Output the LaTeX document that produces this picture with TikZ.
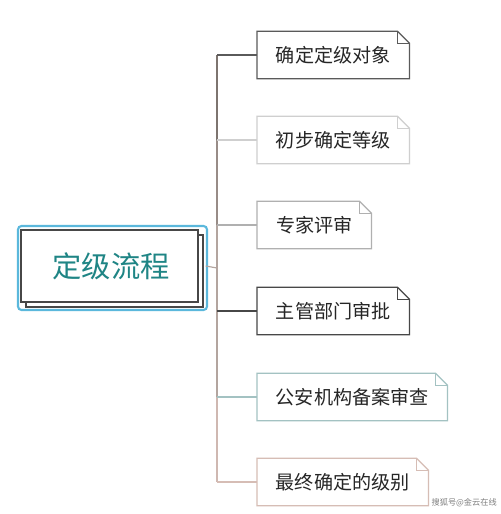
\documentclass[tikz,border=0pt]{standalone}
\usepackage{fontspec}
\newfontfamily\cjk{Noto Sans CJK SC}
\definecolor{cA}{HTML}{5A5A5A}
\definecolor{cB}{HTML}{CFCFCF}
\definecolor{cC}{HTML}{B0B0B0}
\definecolor{cD}{HTML}{474747}
\definecolor{cE}{HTML}{A3C2C2}
\definecolor{cF}{HTML}{D6BDB5}
\definecolor{trunkc}{HTML}{B3A59F}
\definecolor{teal1}{HTML}{1F8585}
\definecolor{blue1}{HTML}{5BB8DC}
\begin{document}
\begin{tikzpicture}[x=0.03cm,y=-0.03cm,
  child/.style={minimum height=47*0.03cm, inner sep=0pt, anchor=west, font=\cjk\fontsize{16.3}{19}\selectfont, text=black!85},
  line/.style={line width=1pt},
]
\useasboundingbox (0,0) rectangle (500,514);
\fill[white] (0,0) rectangle (500,514);

% main node
\draw[blue1, line width=1.8pt, rounded corners=3pt] (18,226) rectangle (207,310);
\draw[cD, line width=1pt, fill=white] (26,235) rectangle (203,307);
\draw[cD, line width=1pt, fill=white] (21,230) rectangle (198,302);
\node[font=\cjk\fontsize{25}{30}\selectfont, text=teal1, minimum width=189*0.03cm, minimum height=84*0.03cm, inner sep=0pt] (main) at (111,266) {定级流程};

% children
\node[child, minimum width=152*0.03cm] (c1) at (257,55) {确定定级对象};
\node[child, minimum width=152*0.03cm] (c2) at (257,140) {初步确定等级};
\node[child, minimum width=114*0.03cm] (c3) at (257,225) {专家评审};
\node[child, minimum width=152*0.03cm] (c4) at (257,311) {主管部门审批};
\node[child, minimum width=190*0.03cm] (c5) at (257,397) {公安机构备案审查};
\node[child, minimum width=171*0.03cm] (c6) at (257,482) {最终确定的级别};

\foreach \n/\c in {c1/cA,c2/cB,c3/cC,c4/cD,c5/cE,c6/cF}{
  \draw[\c, line, line join=miter]
    (\n.north west) -- ([xshift=-12*0.03cm]\n.north east) -- ([yshift=-12*0.03cm]\n.north east)
    -- (\n.south east) -- (\n.south west) -- cycle;
  \draw[\c, line]
    ([xshift=-12*0.03cm]\n.north east) -- ([xshift=-12*0.03cm,yshift=-12*0.03cm]\n.north east) -- ([yshift=-12*0.03cm]\n.north east);
}

% connectors
\coordinate (t0) at (217,268);
\coordinate (t1) at (217,55);
\coordinate (t2) at (217,140);
\coordinate (t3) at (217,225);
\coordinate (t4) at (217,311);
\coordinate (t5) at (217,397);
\coordinate (t6) at (217,482);
\draw[trunkc, line] (main.east) -- (t0);
\draw[trunkc!70!black, line] (t1) -- (t2);
\draw[trunkc!85!black, line] (t2) -- (t3);
\draw[trunkc, line] (t3) -- (t4);
\draw[trunkc, line] (t4) -- (t5);
\draw[cF!80!trunkc, line] (t5) -- (t6);
\draw[cA, line] (t1) -- (c1.west);
\draw[cB, line] (t2) -- (c2.west);
\draw[cC, line] (t3) -- (c3.west);
\draw[cD, line] (t4) -- (c4.west);
\draw[cE, line] (t5) -- (c5.west);
\draw[cF, line] (t6) -- (c6.west);

% watermark
\node[font=\cjk\fontsize{7}{8}\selectfont, text=gray, inner sep=0pt, anchor=east] (wm) at (497,503) {搜狐号@金云在线};
\end{tikzpicture}
\end{document}
